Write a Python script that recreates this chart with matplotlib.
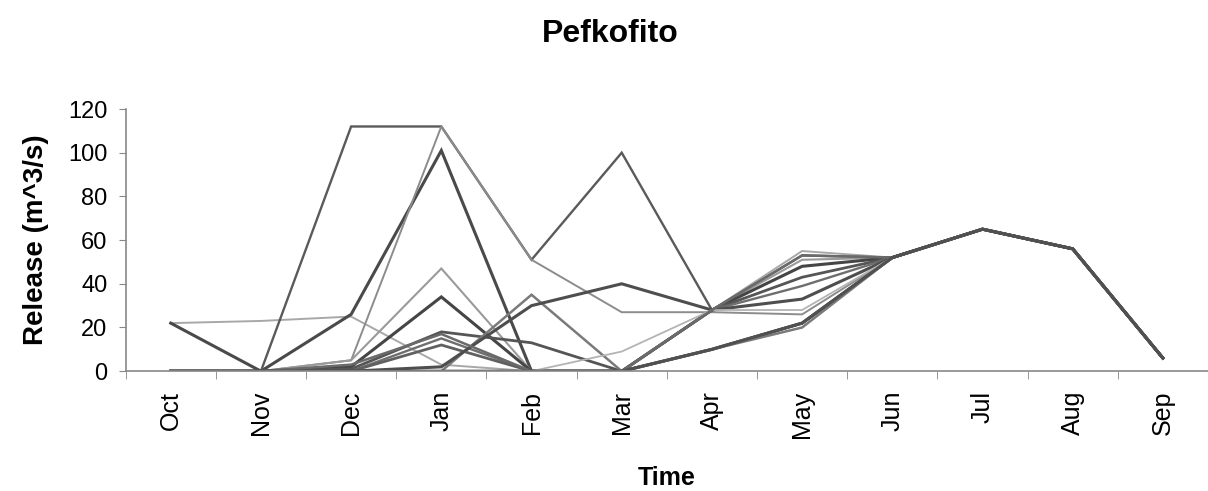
import matplotlib
matplotlib.use('Agg')
import matplotlib.pyplot as plt

plt.rcParams['font.family'] = ['Liberation Sans', 'DejaVu Sans']

months = ['Oct', 'Nov', 'Dec', 'Jan', 'Feb', 'Mar', 'Apr', 'May', 'Jun', 'Jul', 'Aug', 'Sep']

# release traces (m^3/s), one per simulated year
s01 = [22, 23, 25, 3, 0, 0, 28, 55, 52, 65, 56, 6]
s02 = [22, 0, 26, 101, 0, 0, 10, 22, 52, 65, 56, 6]
s03 = [0, 0, 112, 112, 51, 100, 28, 53, 52, 65, 56, 6]
s04 = [0, 0, 5, 112, 51, 27, 27, 26, 52, 65, 56, 6]
s05 = [0, 0, 5, 47, 0, 0, 28, 51, 52, 65, 56, 6]
s06 = [0, 0, 2, 34, 0, 0, 28, 48, 52, 65, 56, 6]
s07 = [0, 0, 1, 18, 13, 0, 28, 43, 52, 65, 56, 6]
s08 = [0, 0, 0, 15, 0, 0, 28, 39, 52, 65, 56, 6]
s09 = [0, 0, 0, 12, 0, 0, 10, 22, 52, 65, 56, 6]
s10 = [0, 0, 0, 0, 35, 0, 10, 20, 52, 65, 56, 6]
s11 = [0, 0, 0, 2, 30, 40, 28, 33, 52, 65, 56, 6]
s12 = [0, 0, 0, 0, 0, 9, 28, 28, 52, 65, 56, 6]
s13 = [0, 0, 3, 17, 0, 0, 28, 53, 52, 65, 56, 6]
s14 = [0, 0, 0, 0, 0, 0, 10, 22, 52, 65, 56, 6]

series = [s01, s02, s03, s04, s05, s06, s07, s08, s09, s10, s11, s12, s13, s14]
greys = ['#a8a8a8', '#4a4a4a', '#5a5a5a', '#8c8c8c', '#9a9a9a', '#454545', '#555555',
         '#6e6e6e', '#606060', '#7a7a7a', '#4e4e4e', '#b4b4b4', '#6a6a6a', '#505050']
widths = [1.4, 2.2, 1.7, 1.4, 1.5, 2.2, 2.0, 1.7, 2.0, 1.8, 2.2, 1.3, 1.8, 2.2]

fig = plt.figure(figsize=(12.08, 4.91), dpi=100)
ax = fig.add_axes([0.104, 0.244, 0.896, 0.534])

x = list(range(len(months)))
for s, c, w in zip(series, greys, widths):
    ax.plot(x, s, color=c, lw=w, solid_joinstyle='miter')

ax.set_xlim(-0.5, 11.5)
ax.set_ylim(0, 120)
ax.set_yticks(range(0, 121, 20))
ax.set_xticks(x)
ax.set_xticklabels(months, rotation=90, fontsize=18)
ax.set_xticks([i + 0.5 for i in range(-1, 12)], minor=True)
ax.tick_params(axis='x', which='major', length=0, pad=14)
ax.tick_params(axis='x', which='minor', length=6, color='#888888')
ax.tick_params(axis='y', labelsize=17, length=5, color='#888888', pad=8)

for side in ['top', 'right']:
    ax.spines[side].set_visible(False)
ax.spines['left'].set_color('#888888')
ax.spines['bottom'].set_color('#888888')
ax.spines['left'].set_linewidth(1.2)
ax.spines['bottom'].set_linewidth(1.2)

ax.set_ylabel('Release (m^3/s)', fontsize=20, fontweight='bold', labelpad=14)
ax.set_xlabel('Time', fontsize=18, fontweight='bold', labelpad=20)
fig.text(0.505, 0.93, 'Pefkofito', ha='center', va='center', fontsize=23, fontweight='bold')

plt.savefig('out.png', dpi=100)
plt.close()
